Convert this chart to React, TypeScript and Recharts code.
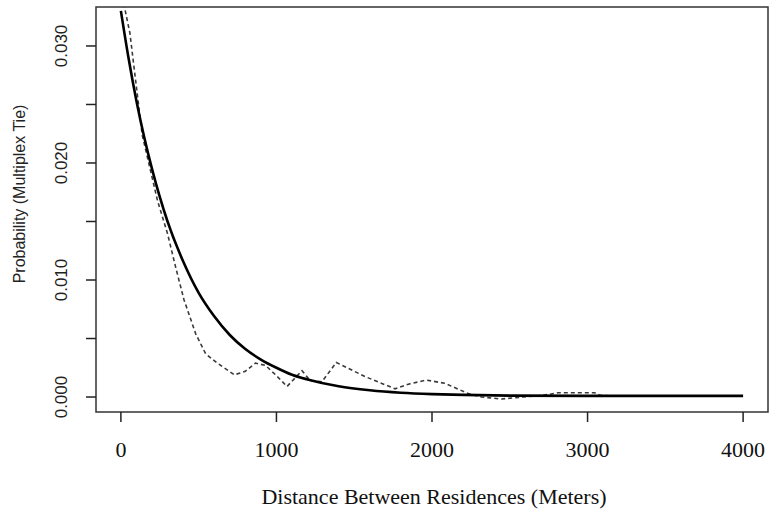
import React from 'react';
import { LineChart, Line, XAxis, YAxis, ReferenceArea, Label } from 'recharts';

// fitted curve (solid)
const fitDistance = [0, 50, 100, 150, 200, 250, 300, 400, 500, 600, 700, 800, 900, 1000, 1100, 1200, 1400, 1600, 1800, 2000, 2200, 2500, 3000, 3500, 4000];
const fitProbability = [0.033, 0.0289, 0.0253, 0.0222, 0.0195, 0.0171, 0.015, 0.0116, 0.0089, 0.0069, 0.0053, 0.0041, 0.0032, 0.0025, 0.0019, 0.0015, 0.00092, 0.00058, 0.00037, 0.00025, 0.00018, 0.00012, 0.0001, 0.0001, 0.0001];

// observed / smoothed curve (dashed)
const obsDistance = [0, 58, 137, 235, 299, 352, 406, 481, 545, 619, 730, 800, 865, 930, 994, 1068, 1164, 1218, 1292, 1385, 1571, 1763, 1848, 1965, 2083, 2233, 2318, 2446, 2585, 2680, 2756, 2810, 3045, 3077, 3150];
const obsProbability = [0.0348, 0.0311, 0.0224, 0.0168, 0.014, 0.0111, 0.0083, 0.0054, 0.0037, 0.0029, 0.0019, 0.0022, 0.0029, 0.0027, 0.0019, 0.0009, 0.00225, 0.0014, 0.0013, 0.00295, 0.00174, 0.0007, 0.0011, 0.00145, 0.00117, 0.0003, 0.0, -0.00017, 0.0, 0.0001, 0.00023, 0.00037, 0.00037, 0.00017, 0.0001];

const xTicks = [0, 1000, 2000, 3000, 4000];
const yTicks = [0, 0.005, 0.01, 0.015, 0.02, 0.025, 0.03];
const yLabelled = [0, 0.01, 0.02, 0.03];

const X_DOMAIN: [number, number] = [-160, 4160];
const Y_DOMAIN: [number, number] = [-0.00128, 0.03333];

const fitData = fitDistance.map((d, i) => ({ x: d, y: fitProbability[i] }));
const obsData = obsDistance.map((d, i) => ({ x: d, y: obsProbability[i] }));

const SANS = '"Liberation Sans", Arial, sans-serif';
const SERIF = '"Liberation Serif", "Times New Roman", serif';

const XTick = (props: any) => {
  const { x, payload } = props;
  return (
    <text x={x} y={457} textAnchor="middle" fontFamily={SERIF} fontSize={22} fill="#111">
      {payload.value}
    </text>
  );
};

const YTick = (props: any) => {
  const { y, payload } = props;
  const v = payload.value;
  if (!yLabelled.some((t) => Math.abs(t - v) < 1e-9)) return <g />;
  return (
    <text x={67} y={y} textAnchor="middle" fontFamily={SANS} fontSize={17} fill="#222"
      transform={`rotate(-90, 67, ${y})`}>
      {v.toFixed(3)}
    </text>
  );
};

export default function App() {
  return (
    <div style={{ position: 'absolute', left: 0, top: 0, width: 770, height: 513, background: '#fff' }}>
      <LineChart width={770} height={513} margin={{ top: 7, right: 2, bottom: 0, left: 0 }}>
        <XAxis
          type="number"
          dataKey="x"
          domain={X_DOMAIN}
          ticks={xTicks}
          allowDataOverflow
          axisLine={false}
          tickLine={{ stroke: '#222', strokeWidth: 1.5 }}
          tickSize={10}
          height={101}
          tick={<XTick />}
          interval={0}
        >
          <Label
            content={() => (
              <text x={434} y={504} textAnchor="middle" fontFamily={SERIF} fontSize={22} fill="#111">
                Distance Between Residences (Meters)
              </text>
            )}
          />
        </XAxis>
        <YAxis
          type="number"
          dataKey="y"
          domain={Y_DOMAIN}
          ticks={yTicks}
          allowDataOverflow
          axisLine={false}
          tickLine={{ stroke: '#222', strokeWidth: 1.5 }}
          tickSize={10}
          width={96}
          tick={<YTick />}
          interval={0}
        >
          <Label
            content={() => (
              <text x={25} y={194} textAnchor="middle" fontFamily={SANS} fontSize={16} fill="#222"
                transform="rotate(-90, 25, 194)">
                Probability (Multiplex Tie)
              </text>
            )}
          />
        </YAxis>
        <ReferenceArea x1={X_DOMAIN[0]} x2={X_DOMAIN[1]} y1={Y_DOMAIN[0]} y2={Y_DOMAIN[1]}
          fill="none" fillOpacity={0} stroke="#333" strokeWidth={1.5} ifOverflow="visible" />
        <Line data={obsData} dataKey="y" type="linear" stroke="#3a3a3a" strokeWidth={1.6}
          strokeDasharray="4 3" dot={false} isAnimationActive={false} />
        <Line data={fitData} dataKey="y" type="monotone" stroke="#000" strokeWidth={2.6}
          dot={false} isAnimationActive={false} />
      </LineChart>
    </div>
  );
}
